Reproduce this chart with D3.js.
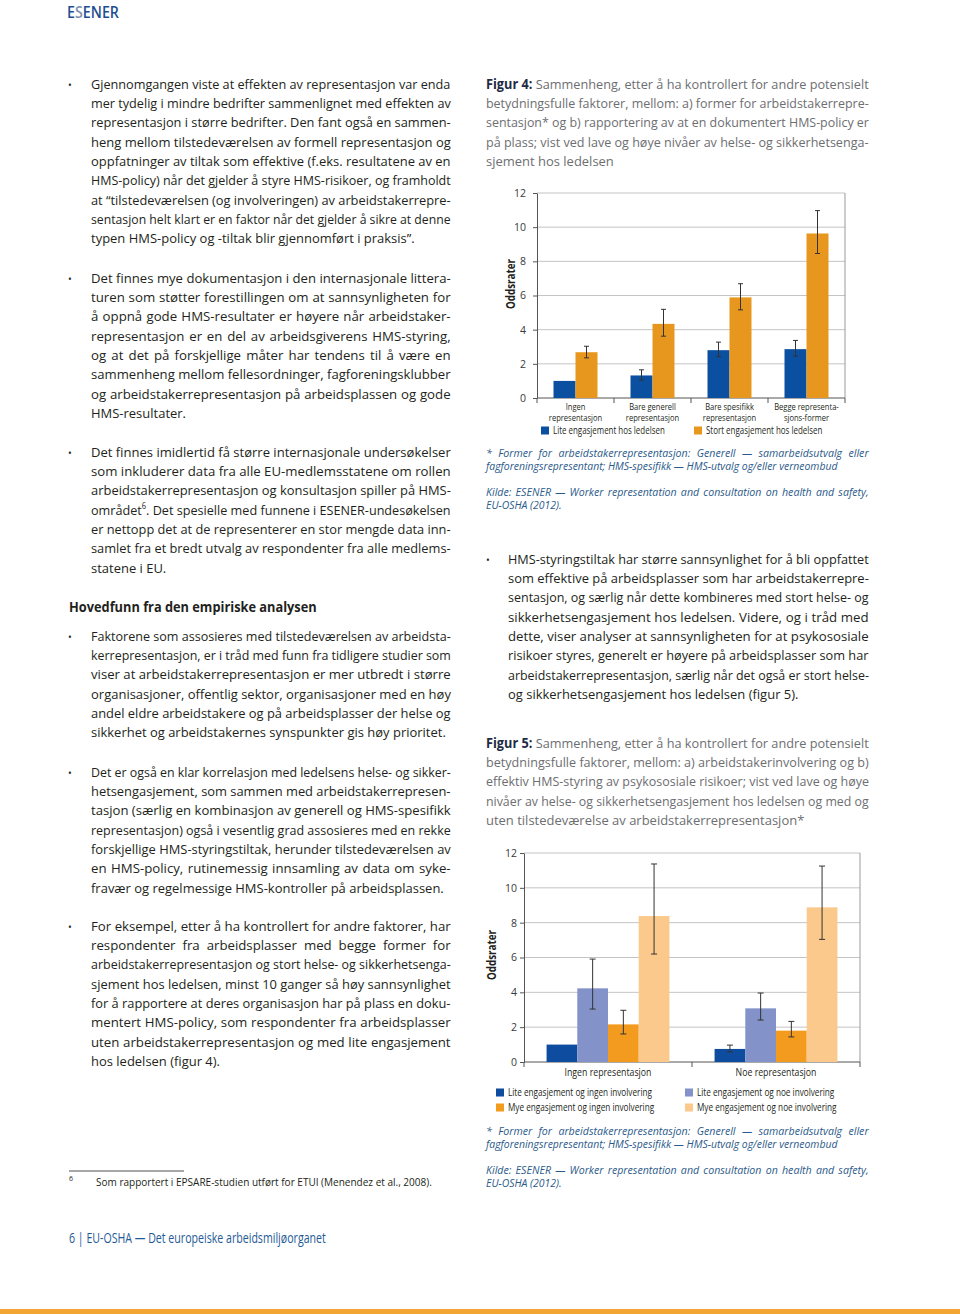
<!DOCTYPE html>
<html><head><meta charset="utf-8">
<script src="https://cdn.jsdelivr.net/npm/d3@7"></script>
<style>html,body{margin:0;padding:0;background:#fff}</style>
</head><body>
<svg id="page" width="960" height="1314"></svg>
<script>
// ---------- DATA: Figur 4 ----------
const fig4Categories = ["Ingen\nrepresentasjon", "Bare generell\nrepresentasjon", "Bare spesifikk\nrepresentasjon", "Begge representa-\nsjons-former"];
const fig4Series = ["Lite engasjement hos ledelsen", "Stort engasjement hos ledelsen"];
const fig4Lite = [1.0, 1.32, 2.8, 2.86];
const fig4LiteLow = [null, 1.05, 2.42, 2.45];
const fig4LiteHigh = [null, 1.65, 3.27, 3.37];
const fig4Stort = [2.68, 4.34, 5.89, 9.63];
const fig4StortLow = [2.35, 3.62, 5.16, 8.46];
const fig4StortHigh = [3.03, 5.19, 6.69, 10.97];
const yTicks = [0, 2, 4, 6, 8, 10, 12];

// ---------- DATA: Figur 5 ----------
const fig5Categories = ["Ingen representasjon", "Noe representasjon"];
const fig5Series = ["Lite engasjement og ingen involvering", "Lite engasjement og noe involvering", "Mye engasjement og ingen involvering", "Mye engasjement og noe involvering"];
const fig5LiteIngen = [1.0, 0.75];
const fig5LiteIngenLow = [null, 0.58];
const fig5LiteIngenHigh = [null, 0.97];
const fig5LiteNoe = [4.23, 3.08];
const fig5LiteNoeLow = [3.04, 2.41];
const fig5LiteNoeHigh = [5.91, 3.96];
const fig5MyeIngen = [2.16, 1.8];
const fig5MyeIngenLow = [1.61, 1.44];
const fig5MyeIngenHigh = [2.97, 2.33];
const fig5MyeNoe = [8.38, 8.88];
const fig5MyeNoeLow = [6.2, 7.04];
const fig5MyeNoeHigh = [11.37, 11.25];

// ---------- PAGE TEXT ----------
const P1 = ["Gjennomgangen viste at effekten av representasjon var enda",
"mer tydelig i mindre bedrifter sammenlignet med effekten av",
"representasjon i større bedrifter. Den fant også en sammen-",
"heng mellom tilstedeværelsen av formell representasjon og",
"oppfatninger av tiltak som effektive (f.eks. resultatene av en",
"HMS-policy) når det gjelder å styre HMS-risikoer, og framholdt",
"at “tilstedeværelsen (og involveringen) av arbeidstakerrepre-",
"sentasjon helt klart er en faktor når det gjelder å sikre at denne",
"typen HMS-policy og -tiltak blir gjennomført i praksis”."];
const P2 = ["Det finnes mye dokumentasjon i den internasjonale littera-",
"turen som støtter forestillingen om at sannsynligheten for",
"å oppnå gode HMS-resultater er høyere når arbeidstaker-",
"representasjon er en del av arbeidsgiverens HMS-styring,",
"og at det på forskjellige måter har tendens til å være en",
"sammenheng mellom fellesordninger, fagforeningsklubber",
"og arbeidstakerrepresentasjon på arbeidsplassen og gode",
"HMS-resultater."];
const P3 = ["Det finnes imidlertid få større internasjonale undersøkelser",
"som inkluderer data fra alle EU-medlemsstatene om rollen",
"arbeidstakerrepresentasjon og konsultasjon spiller på HMS-",
[{t:"området"},{t:"6",sup:true},{t:". Det spesielle med funnene i ESENER-undesøkelsen"}],
"er nettopp det at de representerer en stor mengde data inn-",
"samlet fra et bredt utvalg av respondenter fra alle medlems-",
"statene i EU."];
const HEAD = "Hovedfunn fra den empiriske analysen";
const P4 = ["Faktorene som assosieres med tilstedeværelsen av arbeidsta-",
"kerrepresentasjon, er i tråd med funn fra tidligere studier som",
"viser at arbeidstakerrepresentasjon er mer utbredt i større",
"organisasjoner, offentlig sektor, organisasjoner med en høy",
"andel eldre arbeidstakere og på arbeidsplasser der helse og",
"sikkerhet og arbeidstakernes synspunkter gis høy prioritet."];
const P5 = ["Det er også en klar korrelasjon med ledelsens helse- og sikker-",
"hetsengasjement, som sammen med arbeidstakerrepresen-",
"tasjon (særlig en kombinasjon av generell og HMS-spesifikk",
"representasjon) også i vesentlig grad assosieres med en rekke",
"forskjellige HMS-styringstiltak, herunder tilstedeværelsen av",
"en HMS-policy, rutinemessig innsamling av data om syke-",
"fravær og regelmessige HMS-kontroller på arbeidsplassen."];
const P6 = ["For eksempel, etter å ha kontrollert for andre faktorer, har",
"respondenter fra arbeidsplasser med begge former for",
"arbeidstakerrepresentasjon og stort helse- og sikkerhetsenga-",
"sjement hos ledelsen, minst 10 ganger så høy sannsynlighet",
"for å rapportere at deres organisasjon har på plass en doku-",
"mentert HMS-policy, som respondenter fra arbeidsplasser",
"uten arbeidstakerrepresentasjon og med lite engasjement",
"hos ledelsen (figur 4)."];
const P7 = ["HMS-styringstiltak har større sannsynlighet for å bli oppfattet",
"som effektive på arbeidsplasser som har arbeidstakerrepre-",
"sentasjon, og særlig når dette kombineres med stort helse- og",
"sikkerhetsengasjement hos ledelsen. Videre, og i tråd med",
"dette, viser analyser at sannsynligheten for at psykososiale",
"risikoer styres, generelt er høyere på arbeidsplasser som har",
"arbeidstakerrepresentasjon, særlig når det også er stort helse-",
"og sikkerhetsengasjement hos ledelsen (figur 5)."];
const CAP4 = [[{t:"Figur 4: ",bold:true},{t:"Sammenheng, etter å ha kontrollert for andre potensielt"}],
"betydningsfulle faktorer, mellom: a) former for arbeidstakerrepre-",
"sentasjon* og b) rapportering av at en dokumentert HMS-policy er",
"på plass; vist ved lave og høye nivåer av helse- og sikkerhetsenga-",
"sjement hos ledelsen"];
const CAP5 = [[{t:"Figur 5: ",bold:true},{t:"Sammenheng, etter å ha kontrollert for andre potensielt"}],
"betydningsfulle faktorer, mellom: a) arbeidstakerinvolvering og b)",
"effektiv HMS-styring av psykososiale risikoer; vist ved lave og høye",
"nivåer av helse- og sikkerhetsengasjement hos ledelsen og med og",
"uten tilstedeværelse av arbeidstakerrepresentasjon*"];
const NOTE = ["* Former for arbeidstakerrepresentasjon: Generell — samarbeidsutvalg eller",
"fagforeningsrepresentant; HMS-spesifikk — HMS-utvalg og/eller verneombud"];
const SRC = ["Kilde: ESENER — Worker representation and consultation on health and safety,",
"EU-OSHA (2012)."];

// ---------- helpers ----------
const FONT = "'Open Sans','Noto Sans',sans-serif";
const svg = d3.select("#page");

function measure(str, size, weight, italic){
  const t = svg.append("text").attr("font-family",FONT).attr("font-size",size)
    .attr("font-weight",weight||400).attr("font-style",italic?"italic":"normal").text(str);
  const w = t.node().getComputedTextLength(); t.remove(); return w;
}
function line(parent, x, y, parts, o){
  if (typeof parts === "string") parts = [{t:parts}];
  const t = parent.append("text").attr("x",0).attr("y",0)
    .attr("font-family",FONT).attr("font-size",o.size)
    .attr("font-weight",o.weight||400).attr("font-style",o.italic?"italic":"normal")
    .attr("fill",o.fill||"#231f20").attr("text-anchor",o.anchor||"start");
  parts.forEach(p=>{
    const ts = t.append("tspan").text(p.t);
    if (p.bold){ ts.attr("font-weight",700).attr("fill",o.boldFill||o.fill||"#231f20"); }
    if (p.sup){ ts.attr("baseline-shift","super").attr("font-size",o.size*0.6); }
    if (p.fill){ ts.attr("fill",p.fill); }
  });
  const w = t.node().getComputedTextLength();
  let k = o.k || 1;
  if (o.fit) k = o.fit / w;
  if (o.justify){
    const full = parts.map(p=>p.t).join("");
    const n = (full.match(/ /g)||[]).length;
    const kj = Math.min(k*1.02, o.justify / w);
    const extra = o.justify / kj - w;
    if (n>0 && extra>0) t.attr("word-spacing", extra/n);
    k = kj;
  }
  let tr = `translate(${x},${y})`;
  if (o.rotate) tr += ` rotate(${o.rotate})`;
  tr += ` scale(${k},1)`;
  t.attr("transform", tr);
  return t;
}

const BODY_SIZE = 13.5, STEP = 19.35;
const kBody = 324 / measure("typen HMS-policy og -tiltak blir gjennomført i praksis”.", BODY_SIZE);
const kFoot = 352 / measure(NOTE[1], 10.5, 400, true);
const kCond = 59 / measure("representasjon", 10.5);

function paragraph(lines, bx, x, w, y0, opts){
  const g = svg.append("g");
  if (bx !== null) g.append("text").attr("x",bx).attr("y",y0).attr("font-family",FONT)
      .attr("font-size",10).attr("fill","#231f20").text("•");
  lines.forEach((ln,i)=>{
    const last = i === lines.length-1;
    line(g, x, y0 + i*(opts.step||STEP), ln, Object.assign({size:BODY_SIZE, k:kBody}, opts, last?{}:{justify:w}));
  });
}

// ---------- header / page furniture ----------
line(svg, 67, 18, [{t:"E"},{t:"S",fill:"#7f93ad"},{t:"ENER"}], {size:17, weight:600, fill:"#1d4f91", fit:52});

paragraph(P1, 68, 91, 360, 88.5, {});
paragraph(P2, 68, 91, 360, 282.5, {});
paragraph(P3, 68, 91, 360, 456.5, {});
line(svg, 69, 611.5, HEAD, {size:13.5, weight:700, fit:248});
paragraph(P4, 68, 91, 360, 640.5, {});
paragraph(P5, 68, 91, 360, 776.5, {});
paragraph(P6, 68, 91, 360, 930.5, {});
paragraph(P7, 486, 508, 361, 563.5, {});

paragraph(CAP4, null, 486, 383, 88.5, {fill:"#6d6e71", boldFill:"#1d2b45"});
paragraph(CAP5, null, 486, 383, 747.5, {fill:"#6d6e71", boldFill:"#1d2b45"});

const NOTE_OPTS = {size:10.5, italic:true, fill:"#2b5a8a", k:kFoot, step:13};
[[457,496],[1135,1174]].forEach(([a,b])=>{
  paragraph(NOTE, null, 486, 383, a, NOTE_OPTS);
  paragraph(SRC, null, 486, 383, b, NOTE_OPTS);
});

// footnote
svg.append("line").attr("x1",69).attr("x2",184).attr("y1",1171).attr("y2",1171).attr("stroke","#231f20").attr("stroke-width",0.8);
line(svg, 69, 1181, "6", {size:7});
line(svg, 96, 1186, "Som rapportert i EPSARE-studien utført for ETUI (Menendez et al., 2008).", {size:11, fit:336});
line(svg, 69, 1243, "6 | EU-OSHA — Det europeiske arbeidsmiljøorganet", {size:15, fill:"#1e5a96", fit:257});
svg.append("rect").attr("x",0).attr("y",1309).attr("width",960).attr("height",5).attr("fill","#f2a532");

// ---------- generic grouped bar chart ----------
function chart(cfg){
  const g = svg.append("g");
  const x0 = d3.scaleBand().domain(cfg.categories).range([cfg.left,cfg.right]).paddingInner(0).paddingOuter(0);
  const x1 = d3.scaleBand().domain(cfg.series).range([0,x0.bandwidth()]).paddingInner(0).paddingOuter(cfg.outer);
  const y = d3.scaleLinear().domain([0,12]).range([cfg.bottom,cfg.top]);
  g.selectAll(".grid").data(yTicks.filter(d=>d>0)).join("line")
    .attr("x1",cfg.left).attr("x2",cfg.right).attr("y1",d=>y(d)).attr("y2",d=>y(d))
    .attr("stroke","#c4c4c4").attr("stroke-width",1);
  g.append("line").attr("x1",cfg.right).attr("x2",cfg.right).attr("y1",y(12)).attr("y2",y(0)).attr("stroke","#9a9a9a");
  const ya = g.append("g").attr("transform",`translate(${cfg.left},0)`)
    .call(d3.axisLeft(y).tickValues(yTicks).tickSize(4).tickSizeOuter(0).tickPadding(cfg.tickPad));
  ya.select(".domain").attr("stroke","#555");
  ya.selectAll(".tick line").attr("stroke","#555");
  ya.selectAll(".tick text").attr("font-family",FONT).attr("font-size",10.5).attr("fill","#3a3a3a");
  g.append("line").attr("x1",cfg.left).attr("x2",cfg.right).attr("y1",y(0)).attr("y2",y(0)).attr("stroke","#555");
  const bounds = cfg.categories.map(c=>x0(c)).concat([cfg.right]);
  g.selectAll(".xt").data(bounds).join("line").attr("x1",d=>d).attr("x2",d=>d)
    .attr("y1",y(0)).attr("y2",y(0)+5).attr("stroke","#555");
  cfg.series.forEach((s,si)=>{
    const vals = cfg.values[si], lo = cfg.low[si], hi = cfg.high[si];
    const gs = g.append("g");
    gs.selectAll("rect").data(cfg.categories).join("rect")
      .attr("x",(c)=>x0(c)+x1(s)).attr("width",x1.bandwidth())
      .attr("y",(c,i)=>y(vals[i])).attr("height",(c,i)=>y(0)-y(vals[i]))
      .attr("fill",cfg.colors[si]);
    const eb = cfg.categories.map((c,i)=>({c,i})).filter(d=>lo[d.i]!==null);
    const cx = d=>x0(d.c)+x1(s)+x1.bandwidth()/2;
    gs.selectAll(".ev").data(eb).join("line").attr("x1",cx).attr("x2",cx)
      .attr("y1",d=>y(lo[d.i])).attr("y2",d=>y(hi[d.i])).attr("stroke","#333").attr("stroke-width",1);
    [lo,hi].forEach(arr=>{
      gs.append("g").selectAll("line").data(eb).join("line")
        .attr("x1",d=>cx(d)-cfg.cap).attr("x2",d=>cx(d)+cfg.cap)
        .attr("y1",d=>y(arr[d.i])).attr("y2",d=>y(arr[d.i])).attr("stroke","#333").attr("stroke-width",1);
    });
  });
  cfg.categories.forEach(c=>{
    c.split("\n").forEach((l,li)=>{
      line(g, x0(c)+x0.bandwidth()/2, y(0)+cfg.labelDy+li*cfg.labelStep, l, {size:cfg.labelSize, anchor:"middle", k:kCond, fill:"#231f20"});
    });
  });
  line(g, cfg.titleX, cfg.titleY, "Oddsrater", {size:11.5, weight:700, anchor:"middle", rotate:-90, fit:50});
  cfg.series.forEach((s,si)=>{
    const [lx,ly] = cfg.legendPos[si];
    g.append("rect").attr("x",lx).attr("y",ly-7.5).attr("width",8).attr("height",8).attr("fill",cfg.colors[si]);
    line(g, lx+12, ly, s, {size:cfg.legendSize, k:kCond, fill:"#231f20"});
  });
}

chart({
  categories: fig4Categories, series: fig4Series,
  values: [fig4Lite, fig4Stort], low: [fig4LiteLow, fig4StortLow], high: [fig4LiteHigh, fig4StortHigh],
  colors: ["#0b4fa0", "#e8971e"],
  left: 537, right: 845, top: 193, bottom: 398, outer: 0.75, cap: 2.5, tickPad: 7,
  labelDy: 11.5, labelStep: 11.5, labelSize: 9.5, titleX: 515, titleY: 284,
  legendSize: 10, legendPos: [[541,434],[694,434]]
});

chart({
  categories: fig5Categories, series: fig5Series,
  values: [fig5LiteIngen, fig5LiteNoe, fig5MyeIngen, fig5MyeNoe],
  low: [fig5LiteIngenLow, fig5LiteNoeLow, fig5MyeIngenLow, fig5MyeNoeLow],
  high: [fig5LiteIngenHigh, fig5LiteNoeHigh, fig5MyeIngenHigh, fig5MyeNoeHigh],
  colors: ["#0d4c9e", "#8392c9", "#f39b1e", "#fbc98b"],
  left: 524, right: 860, top: 853, bottom: 1062, outer: 0.735, cap: 3, tickPad: 3,
  labelDy: 14, labelStep: 10.5, labelSize: 11, titleX: 496, titleY: 955,
  legendSize: 10.3, legendPos: [[496,1096],[685,1096],[496,1111],[685,1111]]
});
</script>
</body></html>
